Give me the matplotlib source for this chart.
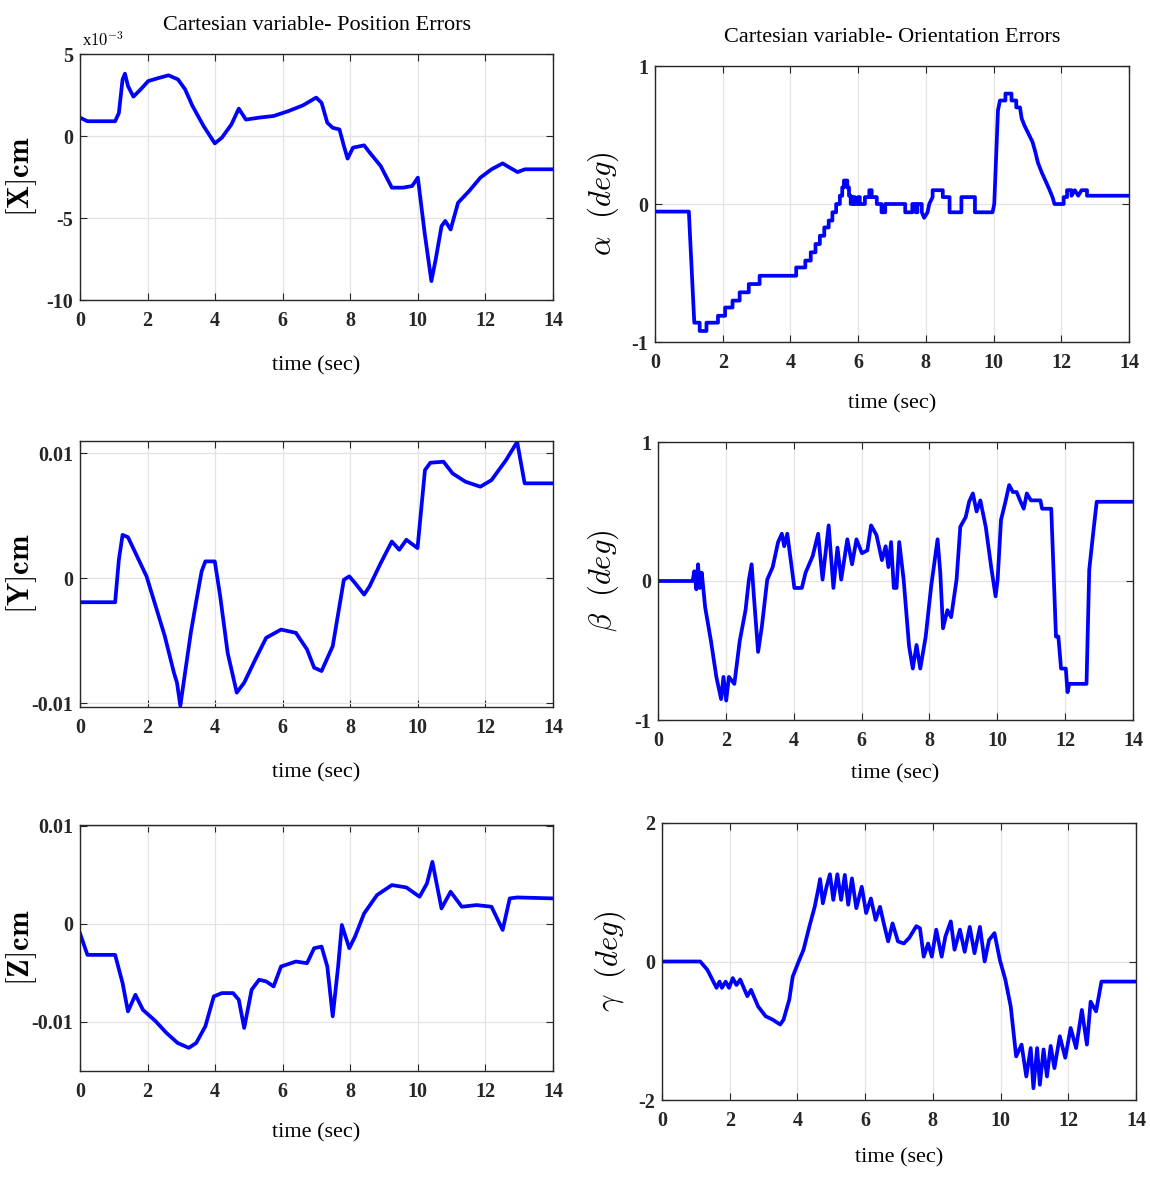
import matplotlib
matplotlib.use("Agg")
from matplotlib import pyplot as plt

plt.rcParams["mathtext.fontset"] = "cm"
plt.rcParams["font.family"] = ["Liberation Serif", "DejaVu Serif"]

# ---- data (time in s) ----
# X error, in units of 1e-3 cm
t_x = [0, 0.22, 1.04, 1.15, 1.26, 1.33, 1.42, 1.58, 1.8, 2.02, 2.35, 2.62, 2.9, 3.11, 3.33,
       3.66, 3.99, 4.2, 4.48, 4.7, 4.91, 5.3, 5.73, 6.17, 6.6, 6.99, 7.15, 7.32, 7.48, 7.68,
       7.81, 7.92, 8.08, 8.41, 8.57, 8.9, 9.23, 9.56, 9.83, 10.0, 10.2, 10.4, 10.53, 10.7,
       10.81, 10.97, 11.19, 11.52, 11.85, 12.18, 12.51, 12.78, 12.95, 13.17, 14]
x_err = [1.12, 0.9, 0.9, 1.4, 3.45, 3.8, 3.05, 2.4, 2.85, 3.35, 3.55, 3.7, 3.45, 2.85, 1.83,
         0.6, -0.45, -0.1, 0.7, 1.67, 1.0, 1.12, 1.22, 1.52, 1.87, 2.34, 2.03, 0.81, 0.5, 0.4,
         -0.6, -1.38, -0.71, -0.57, -1.0, -1.83, -3.15, -3.15, -3.05, -2.54, -5.9, -8.85, -7.5,
         -5.5, -5.18, -5.7, -4.07, -3.35, -2.54, -2.03, -1.67, -2.0, -2.2, -2.03, -2.03]

# Y error, in units of 1e-3 cm
t_y = [0, 1.04, 1.15, 1.26, 1.42, 1.69, 1.97, 2.24, 2.51, 2.78, 2.87, 2.97, 3.11, 3.28, 3.44,
       3.6, 3.71, 3.99, 4.15, 4.37, 4.64, 4.86, 5.19, 5.51, 5.95, 6.39, 6.72, 6.93, 7.15, 7.48,
       7.81, 7.97, 8.14, 8.41, 8.57, 8.9, 9.23, 9.45, 9.66, 9.99, 10.21, 10.37, 10.76, 11.03,
       11.41, 11.85, 12.18, 12.61, 12.94, 13.16, 14]
y_err = [-1.91, -1.91, 1.49, 3.48, 3.3, 1.76, 0.16, -2.23, -4.63, -7.55, -8.35, -10.2, -7.55,
         -4.36, -1.84, 0.56, 1.36, 1.36, -1.44, -5.96, -9.15, -8.35, -6.49, -4.76, -4.1, -4.36,
         -5.69, -7.15, -7.42, -5.43, -0.11, 0.16, -0.37, -1.3, -0.64, 1.22, 2.95, 2.29, 3.09,
         2.42, 8.67, 9.26, 9.34, 8.4, 7.74, 7.34, 7.87, 9.47, 10.93, 7.61, 7.61]

# Z error, in units of 1e-3 cm
t_z = [0, 0.22, 1.04, 1.26, 1.42, 1.64, 1.86, 2.24, 2.56, 2.89, 3.22, 3.44, 3.71, 3.96, 4.2,
       4.53, 4.7, 4.86, 5.08, 5.3, 5.51, 5.73, 5.95, 6.39, 6.72, 6.93, 7.15, 7.32, 7.48, 7.64,
       7.75, 7.86, 7.97, 8.14, 8.41, 8.79, 9.23, 9.66, 10.05, 10.27, 10.43, 10.7, 10.97, 11.3,
       11.74, 12.18, 12.51, 12.72, 12.94, 14]
z_err = [-0.95, -3.15, -3.15, -6.03, -8.92, -7.22, -8.75, -9.93, -11.12, -12.14, -12.64,
         -12.14, -10.44, -7.39, -7.05, -7.05, -7.73, -10.61, -6.71, -5.69, -5.86, -6.37, -4.34,
         -3.83, -4.0, -2.47, -2.31, -4.34, -9.42, -4.34, -0.1, -1.29, -2.47, -1.29, 1.08, 2.95,
         3.97, 3.73, 2.78, 4.14, 6.34, 1.59, 3.29, 1.76, 1.93, 1.76, -0.61, 2.61, 2.71, 2.61]

# alpha (deg)
t_a = [0, 1.0, 1.16, 1.32, 1.32, 1.52, 1.52, 1.86, 1.86, 2.07, 2.07, 2.29, 2.29, 2.5, 2.5,
       2.77, 2.77, 3.09, 3.09, 4.17, 4.17, 4.44, 4.44, 4.6, 4.6, 4.74, 4.74, 4.87, 4.87, 5.0,
       5.0, 5.13, 5.13, 5.24, 5.24, 5.35, 5.35, 5.46, 5.46, 5.53, 5.53, 5.58, 5.58, 5.68, 5.68,
       5.73, 5.73, 5.78, 5.78, 5.85, 5.85, 5.9, 5.9, 6.0, 6.0, 6.05, 6.05, 6.2, 6.2, 6.33, 6.33,
       6.4, 6.4, 6.55, 6.55, 6.69, 6.69, 6.8, 6.8, 7.39, 7.39, 7.6, 7.6, 7.7, 7.7, 7.75, 7.75,
       7.88, 7.88, 7.95, 8.05, 8.1, 8.2, 8.2, 8.5, 8.5, 8.7, 8.7, 9.05, 9.05, 9.45, 9.45, 9.97,
       10.02, 10.13, 10.19, 10.35, 10.35, 10.53, 10.53, 10.67, 10.67, 10.78, 10.83, 10.91,
       11.05, 11.15, 11.23, 11.31, 11.42, 11.53, 11.64, 11.74, 11.8, 12.07, 12.07, 12.17,
       12.17, 12.3, 12.3, 12.4, 12.5, 12.6, 12.76, 12.76, 14]
alpha = [-0.055, -0.055, -0.86, -0.86, -0.92, -0.92, -0.86, -0.86, -0.81, -0.81, -0.75, -0.75,
         -0.70, -0.70, -0.64, -0.64, -0.58, -0.58, -0.52, -0.52, -0.46, -0.46, -0.41, -0.41,
         -0.35, -0.35, -0.29, -0.29, -0.23, -0.23, -0.17, -0.17, -0.12, -0.12, -0.06, -0.06, 0,
         0, 0.06, 0.06, 0.12, 0.12, 0.17, 0.17, 0.12, 0.12, 0.06, 0.06, 0, 0, 0.05, 0.05, 0, 0,
         0.05, 0.05, 0, 0, 0.05, 0.05, 0.1, 0.1, 0.05, 0.05, 0, 0, -0.06, -0.06, 0, 0, -0.06,
         -0.06, 0, 0, -0.06, -0.06, 0, 0, -0.06, -0.1, -0.06, 0, 0.05, 0.1, 0.1, 0.05, 0.05,
         -0.06, -0.06, 0.05, 0.05, -0.06, -0.06, 0, 0.68, 0.75, 0.75, 0.8, 0.8, 0.75, 0.75, 0.7,
         0.7, 0.62, 0.57, 0.5, 0.45, 0.38, 0.3, 0.23, 0.17, 0.11, 0.05, 0, 0, 0.05, 0.05, 0.1,
         0.1, 0.06, 0.1, 0.06, 0.1, 0.1, 0.06, 0.06]

# beta (deg)
t_b = [0, 1.02, 1.07, 1.13, 1.18, 1.23, 1.29, 1.39, 1.56, 1.72, 1.86, 1.93, 2.01, 2.09, 2.25,
       2.41, 2.58, 2.68, 2.76, 2.82, 2.95, 3.06, 3.22, 3.38, 3.54, 3.65, 3.72, 3.81, 4.02, 4.24,
       4.35, 4.56, 4.72, 4.85, 5.03, 5.17, 5.29, 5.4, 5.58, 5.72, 5.85, 6.01, 6.17, 6.28, 6.44,
       6.6, 6.71, 6.79, 6.87, 6.95, 7.03, 7.11, 7.24, 7.4, 7.51, 7.62, 7.73, 7.89, 8.05, 8.24,
       8.32, 8.4, 8.53, 8.64, 8.8, 8.91, 9.07, 9.17, 9.28, 9.39, 9.5, 9.66, 9.82, 9.95, 10.01,
       10.11, 10.24, 10.35, 10.46, 10.57, 10.67, 10.78, 10.87, 10.99, 11.27, 11.32, 11.59,
       11.73, 11.8, 11.88, 12.02, 12.07, 12.12, 12.63, 12.71, 12.82, 12.93, 14]
beta = [0, 0, 0.07, -0.06, 0.12, -0.05, 0.06, -0.19, -0.43, -0.69, -0.85, -0.69, -0.86, -0.69,
        -0.74, -0.43, -0.21, 0.01, 0.12, -0.09, -0.51, -0.33, 0.01, 0.1, 0.28, 0.34, 0.25, 0.34,
        -0.05, -0.05, 0.06, 0.18, 0.34, 0.01, 0.4, -0.05, 0.24, 0.01, 0.3, 0.12, 0.3, 0.2, 0.22,
        0.4, 0.33, 0.15, 0.25, 0.1, 0.28, -0.05, -0.05, 0.28, 0.01, -0.47, -0.63, -0.46, -0.63,
        -0.4, -0.04, 0.3, 0.06, -0.34, -0.21, -0.26, 0.01, 0.39, 0.46, 0.57, 0.63, 0.5, 0.58,
        0.39, 0.1, -0.11, 0.01, 0.44, 0.57, 0.69, 0.64, 0.64, 0.58, 0.52, 0.63, 0.58, 0.58,
        0.52, 0.52, -0.4, -0.4, -0.63, -0.63, -0.8, -0.74, -0.74, 0.08, 0.33, 0.57, 0.57]

# gamma (deg)
t_g = [0, 1.13, 1.34, 1.61, 1.7, 1.77, 1.88, 1.98, 2.09, 2.2, 2.31, 2.52, 2.63, 2.84, 3.06,
       3.27, 3.49, 3.59, 3.76, 3.86, 4.02, 4.18, 4.35, 4.51, 4.61, 4.67, 4.75, 4.86, 4.96, 5.06,
       5.18, 5.29, 5.4, 5.5, 5.61, 5.74, 5.9, 6.03, 6.17, 6.31, 6.44, 6.55, 6.68, 6.81, 6.97,
       7.14, 7.3, 7.51, 7.62, 7.73, 7.86, 7.97, 8.1, 8.26, 8.37, 8.53, 8.64, 8.8, 8.94, 9.09,
       9.23, 9.39, 9.53, 9.66, 9.82, 9.98, 10.14, 10.3, 10.46, 10.62, 10.76, 10.89, 10.97,
       11.08, 11.16, 11.27, 11.37, 11.48, 11.59, 11.75, 11.91, 12.07, 12.23, 12.4, 12.55,
       12.66, 12.82, 12.98, 14]
gamma = [0, 0, -0.12, -0.38, -0.29, -0.38, -0.29, -0.38, -0.24, -0.34, -0.26, -0.5, -0.41,
         -0.65, -0.79, -0.84, -0.91, -0.84, -0.55, -0.22, -0.02, 0.17, 0.5, 0.79, 1.03, 1.19,
         0.84, 1.08, 1.26, 0.89, 1.26, 0.89, 1.25, 0.82, 1.2, 0.77, 1.08, 0.7, 0.91, 0.6, 0.79,
         0.55, 0.29, 0.55, 0.29, 0.26, 0.34, 0.51, 0.48, 0.07, 0.26, 0.07, 0.46, 0.07, 0.36,
         0.58, 0.17, 0.46, 0.14, 0.5, 0.12, 0.5, 0, 0.31, 0.41, 0.02, -0.26, -0.65, -1.37, -1.2,
         -1.66, -1.25, -1.83, -1.25, -1.78, -1.27, -1.66, -1.22, -1.54, -1.08, -1.39, -0.96,
         -1.25, -0.7, -1.2, -0.58, -0.72, -0.29, -0.29]

time_ticks = [0, 2, 4, 6, 8, 10, 12, 14]

W, H = 1150, 1178
fig = plt.figure(figsize=(W / 100, H / 100), dpi=100)


def make_ax(left, right, top, bottom):
    return fig.add_axes([left / W, 1 - bottom / H, (right - left) / W, (bottom - top) / H])


panels = [
    # rect px, t, y, ylim, yticks, yticklabels, ylabel, ylabel x px, xlabel gap px
    ((80, 553, 54, 300), t_x, x_err, (-10, 5), [-10, -5, 0, 5], ["-10", "-5", "0", "5"],
     r"$\mathbf{[X]cm}$", 22, 66),
    ((655, 1129, 66, 342), t_a, alpha, (-1, 1), [-1, 0, 1], ["-1", "0", "1"],
     r"$\alpha\ \ (deg)$", 603, 62),
    ((80, 553, 441, 707), t_y, y_err, (-10.3, 11.0), [-10, 0, 10], ["-0.01", "0", "0.01"],
     r"$\mathbf{[Y]cm}$", 22, 66),
    ((658, 1133, 442, 720), t_b, beta, (-1, 1), [-1, 0, 1], ["-1", "0", "1"],
     r"$\beta\ \ (deg)$", 603, 54),
    ((80, 553, 825, 1071), t_z, z_err, (-15.0, 10.1), [-10, 0, 10], ["-0.01", "0", "0.01"],
     r"$\mathbf{[Z]cm}$", 22, 62),
    ((662, 1136, 823, 1100), t_g, gamma, (-2, 2), [-2, 0, 2], ["-2", "0", "2"],
     r"$\gamma\ \ (deg)$", 610, 58),
]

axs = []
for rect, t, y, ylim, yt, ytl, ylab, ylab_x, xgap in panels:
    left, right, top, bottom = rect
    ax = make_ax(left, right, top, bottom)
    ax.plot(t, y, color=(0, 0, 1), lw=2.7, solid_joinstyle="round")
    ax.set_xlim(0, 14)
    ax.set_ylim(*ylim)
    ax.set_xticks(time_ticks)
    ax.set_xticklabels([str(v) for v in time_ticks])
    ax.set_yticks(yt)
    ax.set_yticklabels(ytl)
    for lab in ax.get_xticklabels() + ax.get_yticklabels():
        lab.set_fontweight("bold")
        lab.set_fontsize(14.5)
    ax.tick_params(direction="in", top=True, right=True, length=5, width=0.8,
                   colors="#262626")
    ax.tick_params(axis="x", pad=8)
    ax.tick_params(axis="y", pad=5)
    ax.grid(True, color="#e3e3e3", lw=0.9)
    ax.set_axisbelow(True)
    for sp in ax.spines.values():
        sp.set_color("#262626")
        sp.set_linewidth(1.0)
    ax.set_xlabel("time (sec)", fontsize=16)
    ax.xaxis.set_label_coords(0.5, -(xgap) / (bottom - top), transform=ax.transAxes)
    ax.xaxis.label.set_verticalalignment("center")
    ax.set_ylabel(ylab, fontsize=22)
    ax.yaxis.set_label_coords((ylab_x - left) / (right - left), 0.5, transform=ax.transAxes)
    ax.yaxis.label.set_verticalalignment("center")
    axs.append(ax)

axs[0].text(0.005, 1.015, r"x$\mathbf{10^{-3}}$", transform=axs[0].transAxes,
            fontsize=12, ha="left", va="bottom")

fig.text(317 / W, 1 - 25 / H, "Cartesian variable- Position Errors", fontsize=16,
         ha="center", va="center")
fig.text(892 / W, 1 - 37 / H, "Cartesian variable- Orientation Errors", fontsize=16,
         ha="center", va="center")

plt.savefig("out.png", dpi=100)
plt.close(fig)
